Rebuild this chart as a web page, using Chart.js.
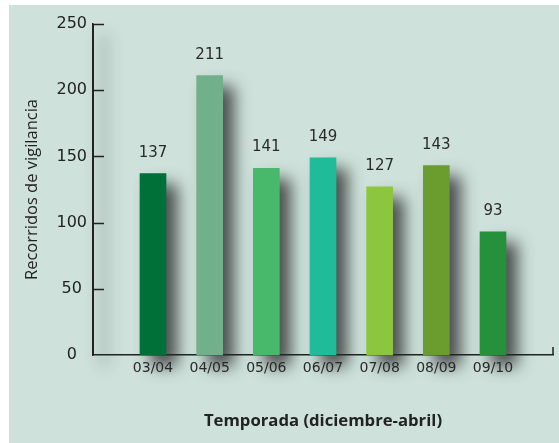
<!DOCTYPE html>
<html>
<head>
<meta charset="utf-8">
<script src="https://cdn.jsdelivr.net/npm/chart.js@4.4.1/dist/chart.umd.min.js"></script>
<style>
  html, body { margin: 0; padding: 0; background: #ffffff; }
  #wrap { position: absolute; left: 0; top: 0; width: 559px; height: 443px; }
</style>
</head>
<body>
<div id="wrap"><canvas id="c" width="559" height="443"></canvas></div>
<script>
// ---- data ----
const seasons = ['03/04', '04/05', '05/06', '06/07', '07/08', '08/09', '09/10'];
const recorridos = [137, 211, 141, 149, 127, 143, 93];
const yTicks = [0, 50, 100, 150, 200, 250];
const yTitle = 'Recorridos de vigilancia';
const xTitle = 'Temporada (diciembre-abril)';

// ---- styles ----
const barColors = ['#007038', '#72b08c', '#48b96a', '#20bb98', '#8cc63f', '#6a9c2e', '#25913a'];
const panelColor = '#cee2db';
const inkColor = '#222222';

const panelPlugin = {
  id: 'panel',
  beforeDraw(chart) {
    const ctx = chart.ctx;
    ctx.save();
    ctx.fillStyle = panelColor;
    ctx.fillRect(9, 5, chart.width - 9, chart.height - 5);
    ctx.restore();
  }
};

function setShadow(ctx) {
  ctx.shadowColor = 'rgba(40,40,40,0.8)';
  ctx.shadowBlur = 16;
  ctx.shadowOffsetX = 11;
  ctx.shadowOffsetY = 11;
}

const shadowPlugin = {
  id: 'barShadow',
  beforeDatasetsDraw(chart) {
    const ctx = chart.ctx;
    const area = chart.chartArea;
    // soft shadow of the vertical axis
    ctx.save();
    setShadow(ctx);
    ctx.shadowColor = 'rgba(40,40,40,0.9)';
    ctx.strokeStyle = inkColor;
    ctx.lineWidth = 2;
    ctx.beginPath();
    ctx.moveTo(area.left, area.top);
    ctx.lineTo(area.left, area.bottom);
    ctx.stroke();
    ctx.restore();
    ctx.save();
    setShadow(ctx);
  },
  afterDatasetsDraw(chart) {
    chart.ctx.restore();
  }
};

const labelPlugin = {
  id: 'valueLabels',
  afterDatasetsDraw(chart) {
    const ctx = chart.ctx;
    const meta = chart.getDatasetMeta(0);
    ctx.save();
    ctx.fillStyle = '#2a2a2a';
    ctx.font = '15px "DejaVu Sans"';
    ctx.textAlign = 'center';
    ctx.textBaseline = 'middle';
    meta.data.forEach((bar, i) => {
      ctx.fillText(String(recorridos[i]), bar.x, bar.y - 21);
    });
    ctx.restore();
  }
};

const axisMarksPlugin = {
  id: 'axisMarks',
  afterDraw(chart) {
    const ctx = chart.ctx;
    const ys = chart.scales.y;
    const area = chart.chartArea;
    ctx.save();
    ctx.strokeStyle = inkColor;
    ctx.lineWidth = 1.5;
    ctx.beginPath();
    yTicks.forEach(v => {
      if (v === 0) return;
      const py = Math.round(ys.getPixelForValue(v)) + 0.5;
      ctx.moveTo(area.left, py);
      ctx.lineTo(area.left + 11, py);
    });
    // end cap of x axis
    ctx.moveTo(area.right, area.bottom);
    ctx.lineTo(area.right, area.bottom - 8);
    ctx.stroke();
    ctx.restore();
  }
};

const n = seasons.length;
const pad = 1.0588;

new Chart(document.getElementById('c'), {
  type: 'bar',
  data: {
    datasets: [{
      data: recorridos.map((v, i) => ({ x: i, y: v })),
      backgroundColor: barColors,
      borderWidth: 0,
      barThickness: 26,
      clip: false
    }]
  },
  options: {
    responsive: false,
    animation: false,
    devicePixelRatio: 1,
    layout: { padding: { left: 19.6, right: 6, top: 24, bottom: 7.6 } },
    plugins: { legend: { display: false }, tooltip: { enabled: false } },
    scales: {
      x: {
        type: 'linear',
        offset: false,
        bounds: 'data',
        min: -pad,
        max: n - 1 + pad,
        afterBuildTicks(scale) { scale.ticks = seasons.map((s, i) => ({ value: i })); },
        afterFit(scale) { scale.height = 80.4; },
        grid: { display: false, drawTicks: false, offset: false },
        border: { display: true, color: inkColor, width: 1.5 },
        ticks: {
          padding: 5,
          color: '#2a2a2a',
          font: { family: 'DejaVu Sans', size: 14 },
          maxRotation: 0,
          autoSkip: false,
          callback: (v) => seasons[v]
        },
        title: {
          display: true,
          text: xTitle,
          color: inkColor,
          font: { family: 'Open Sans', size: 16.7, weight: 'bold' },
          padding: { top: 4, bottom: 4 }
        }
      },
      y: {
        min: 0,
        max: 250,
        afterBuildTicks(scale) { scale.ticks = yTicks.map(v => ({ value: v })); },
        afterFit(scale) { scale.width = 73.4; },
        grid: { display: false, drawTicks: false },
        border: { display: true, color: inkColor, width: 1.5 },
        ticks: {
          padding: 6,
          crossAlign: 'center',
          color: inkColor,
          font: { family: 'DejaVu Sans', size: 16 }
        },
        title: {
          display: true,
          text: yTitle,
          color: inkColor,
          font: { family: 'Open Sans', size: 16.5 },
          padding: { top: 3, bottom: 3 }
        }
      }
    }
  },
  plugins: [panelPlugin, shadowPlugin, labelPlugin, axisMarksPlugin]
});
</script>
</body>
</html>
